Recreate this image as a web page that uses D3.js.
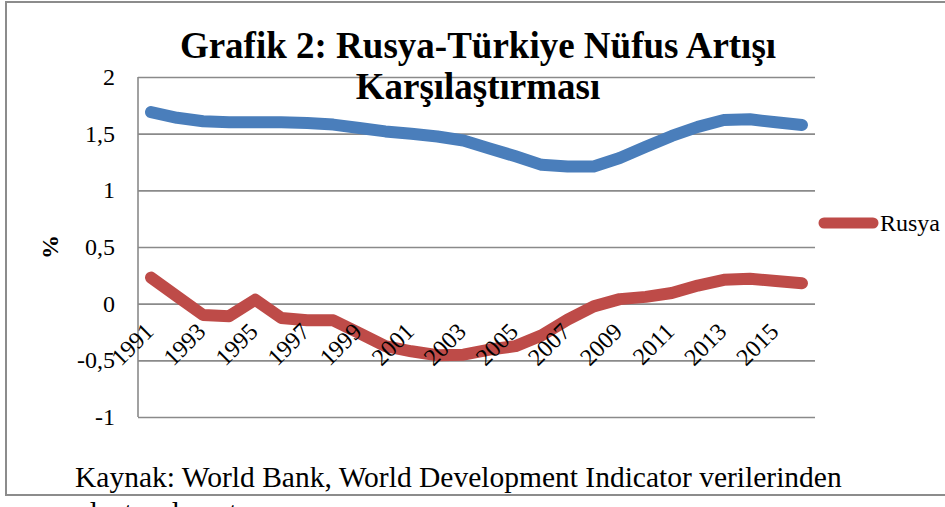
<!DOCTYPE html>
<html>
<head>
<meta charset="utf-8">
<script src="https://cdn.jsdelivr.net/npm/d3@7"></script>
<style>
  body { margin: 0; background: #fff; }
  svg { display: block; font-family: "Liberation Serif", "Times New Roman", serif; }
  .grid line { stroke: #8a8a8a; stroke-width: 1.6; }
  .grid .domain { display: none; }
</style>
</head>
<body>
<svg id="chart"></svg>
<script>
const years = ['1991', '1992', '1993', '1994', '1995', '1996', '1997', '1998', '1999', '2000',
  '2001', '2002', '2003', '2004', '2005', '2006', '2007', '2008', '2009', '2010',
  '2011', '2012', '2013', '2014', '2015', '2016'];
const labelYears = ['1991', '1993', '1995', '1997', '1999', '2001', '2003', '2005', '2007',
  '2009', '2011', '2013', '2015'];
const turkiye = [1.69, 1.64, 1.61, 1.60, 1.60, 1.60, 1.595, 1.58, 1.55, 1.52, 1.50, 1.475, 1.44,
  1.37, 1.30, 1.225, 1.21, 1.21, 1.285, 1.385, 1.48, 1.56, 1.62, 1.627, 1.60, 1.577];
const rusya = [0.23, 0.065, -0.10, -0.11, 0.035, -0.126, -0.147, -0.147, -0.26, -0.375, -0.42,
  -0.455, -0.45, -0.405, -0.375, -0.28, -0.14, -0.024, 0.04, 0.06, 0.094, 0.16, 0.21, 0.22,
  0.20, 0.18];
const yTicks = [-1, -0.5, 0, 0.5, 1, 1.5, 2];

const width = 945;
const height = 507;
const plotLeft = 138;
const plotRight = 815;
const plotTop = 77;
const plotBottom = 417;

const svg = d3.select('#chart')
  .attr('width', width)
  .attr('height', height);

// outer frame
svg.append('rect')
  .attr('x', 6).attr('y', 2)
  .attr('width', 960).attr('height', 493)
  .attr('fill', 'none')
  .attr('stroke', '#8c8c8c')
  .attr('stroke-width', 2);

const x = d3.scalePoint()
  .domain(years)
  .range([plotLeft, plotRight])
  .padding(0.5);

const y = d3.scaleLinear()
  .domain([-1, 2])
  .range([plotBottom, plotTop]);

const fmt = d3.formatLocale({ decimal: ',', thousands: '.', grouping: [3], currency: ['', ''], minus: '-' })
  .format('~g');

// gridlines
svg.append('g')
  .attr('class', 'grid')
  .attr('transform', `translate(${plotLeft},0)`)
  .call(d3.axisLeft(y).tickValues(yTicks).tickSize(-(plotRight - plotLeft)).tickFormat(''));

// vertical axis line
svg.append('line')
  .attr('x1', plotLeft).attr('x2', plotLeft)
  .attr('y1', plotTop).attr('y2', plotBottom)
  .attr('stroke', '#8a8a8a')
  .attr('stroke-width', 1.6);

// y tick labels
svg.append('g')
  .selectAll('text')
  .data(yTicks)
  .enter().append('text')
  .attr('x', 115)
  .attr('y', d => y(d) + 8)
  .attr('text-anchor', 'end')
  .attr('font-size', 24)
  .text(d => fmt(d));

// y title
svg.append('text')
  .attr('transform', 'translate(58,247) rotate(-90)')
  .attr('text-anchor', 'middle')
  .attr('font-size', 24)
  .attr('font-weight', 'bold')
  .text('%');

const line = d3.line()
  .x((d, i) => x(years[i]))
  .y(d => y(d));

svg.append('path')
  .datum(turkiye)
  .attr('d', line)
  .attr('fill', 'none')
  .attr('stroke', '#4a7ebb')
  .attr('stroke-width', 12)
  .attr('stroke-linejoin', 'round')
  .attr('stroke-linecap', 'round');

svg.append('path')
  .datum(rusya)
  .attr('d', line)
  .attr('fill', 'none')
  .attr('stroke', '#be4b48')
  .attr('stroke-width', 12)
  .attr('stroke-linejoin', 'round')
  .attr('stroke-linecap', 'round');

// x labels
svg.append('g')
  .selectAll('text')
  .data(labelYears)
  .enter().append('text')
  .attr('transform', d => `translate(${x(d) + 4},333) rotate(-45)`)
  .attr('text-anchor', 'end')
  .attr('font-size', 24)
  .text(d => d);

// title
const title = svg.append('text')
  .attr('text-anchor', 'middle')
  .attr('font-size', 37)
  .attr('font-weight', 'bold');
title.append('tspan').attr('x', 478).attr('y', 58).text('Grafik 2: Rusya-Türkiye Nüfus Artışı');
title.append('tspan').attr('x', 478).attr('y', 99).text('Karşılaştırması');

// legend
svg.append('line')
  .attr('x1', 824).attr('x2', 873)
  .attr('y1', 223).attr('y2', 223)
  .attr('stroke', '#be4b48')
  .attr('stroke-width', 11)
  .attr('stroke-linecap', 'round');
svg.append('text')
  .attr('x', 880).attr('y', 231)
  .attr('font-size', 24)
  .text('Rusya');

// source
svg.append('text')
  .attr('x', 75).attr('y', 487)
  .attr('font-size', 29.5)
  .text('Kaynak: World Bank, World Development Indicator verilerinden');
svg.append('text')
  .attr('x', 75).attr('y', 522)
  .attr('font-size', 29.5)
  .text('oluşturulmuştur.');
</script>
</body>
</html>
